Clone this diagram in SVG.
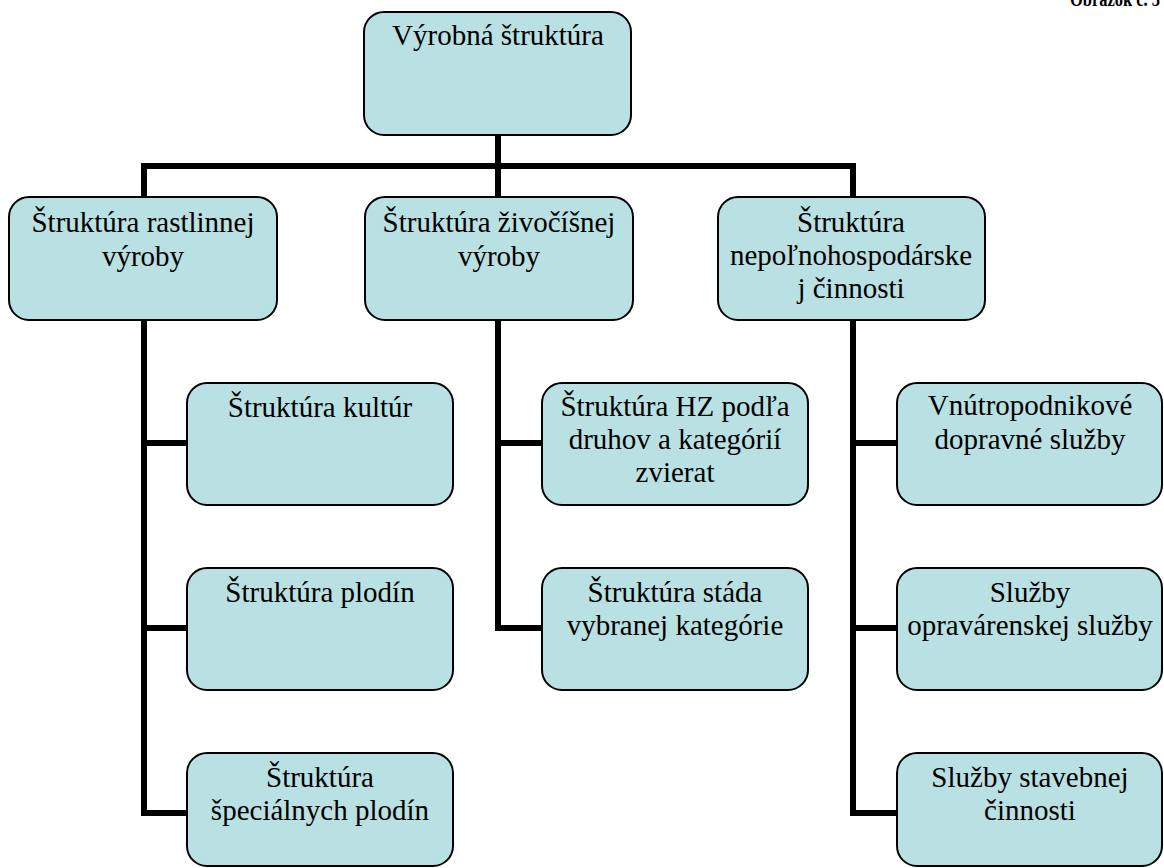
<svg xmlns="http://www.w3.org/2000/svg" width="1164" height="868" viewBox="0 0 1164 868">
<style>
.box{fill:#b9e0e3;stroke:#000;stroke-width:2}
.t{font-family:"Liberation Serif","Times New Roman",serif;font-size:29px;fill:#000;text-anchor:middle}
.c{fill:none;stroke:#000;stroke-width:6;stroke-linejoin:miter;stroke-linecap:butt}
.cap{font-family:"Liberation Serif","Times New Roman",serif;font-size:20px;font-weight:bold;fill:#000;text-anchor:end}
</style>
<rect width="1164" height="868" fill="#fff"/>
<text class="cap" x="1160" y="6" textLength="90" lengthAdjust="spacingAndGlyphs">Obrázok č. 5</text>
<g id="connectors">
<path class="c" d="M498 135 V197"/>
<path class="c" d="M144 197 V166 H853 V197"/>
<path class="c" d="M144 320 V813 H187 M144 443 H187 M144 628 H187"/>
<path class="c" d="M498 320 V628 H542 M498 443 H542"/>
<path class="c" d="M853 320 V813 H897 M853 443 H897 M853 628 H897"/>
</g>
<g id="n-root"><rect class="box" x="364" y="12" width="267" height="123" rx="20"/><text class="t" x="498" y="45">Výrobná štruktúra</text></g>
<g id="n-rastlinnej"><rect class="box" x="9" y="197" width="268" height="123" rx="20"/><text class="t" x="143" y="232">Štruktúra rastlinnej</text><text class="t" x="143" y="266">výroby</text></g>
<g id="n-zivocisnej"><rect class="box" x="365" y="197" width="268" height="123" rx="20"/><text class="t" x="499" y="232">Štruktúra živočíšnej</text><text class="t" x="499" y="266">výroby</text></g>
<g id="n-nepol"><rect class="box" x="718" y="197" width="267" height="123" rx="20"/><text class="t" x="851" y="232">Štruktúra</text><text class="t" x="851" y="265">nepoľnohospodárske</text><text class="t" x="851" y="298">j činnosti</text></g>
<g id="n-kultur"><rect class="box" x="187" y="383" width="266" height="122" rx="20"/><text class="t" x="320" y="417">Štruktúra kultúr</text></g>
<g id="n-plodin"><rect class="box" x="187" y="568" width="266" height="122" rx="20"/><text class="t" x="320" y="602">Štruktúra plodín</text></g>
<g id="n-special"><rect class="box" x="187" y="753" width="266" height="113" rx="20"/><text class="t" x="320" y="787">Štruktúra</text><text class="t" x="320" y="820">špeciálnych plodín</text></g>
<g id="n-hz"><rect class="box" x="542" y="383" width="266" height="122" rx="20"/><text class="t" x="675" y="416">Štruktúra HZ podľa</text><text class="t" x="675" y="449">druhov a kategórií</text><text class="t" x="675" y="482">zvierat</text></g>
<g id="n-stada"><rect class="box" x="542" y="568" width="266" height="122" rx="20"/><text class="t" x="675" y="602">Štruktúra stáda</text><text class="t" x="675" y="635">vybranej kategórie</text></g>
<g id="n-doprava"><rect class="box" x="897" y="383" width="265" height="122" rx="20"/><text class="t" x="1030" y="415">Vnútropodnikové</text><text class="t" x="1030" y="449">dopravné služby</text></g>
<g id="n-oprava"><rect class="box" x="897" y="568" width="265" height="122" rx="20"/><text class="t" x="1030" y="602">Služby</text><text class="t" x="1030" y="635">opravárenskej služby</text></g>
<g id="n-stavba"><rect class="box" x="897" y="753" width="265" height="113" rx="20"/><text class="t" x="1030" y="787">Služby stavebnej</text><text class="t" x="1030" y="820">činnosti</text></g>
</svg>
